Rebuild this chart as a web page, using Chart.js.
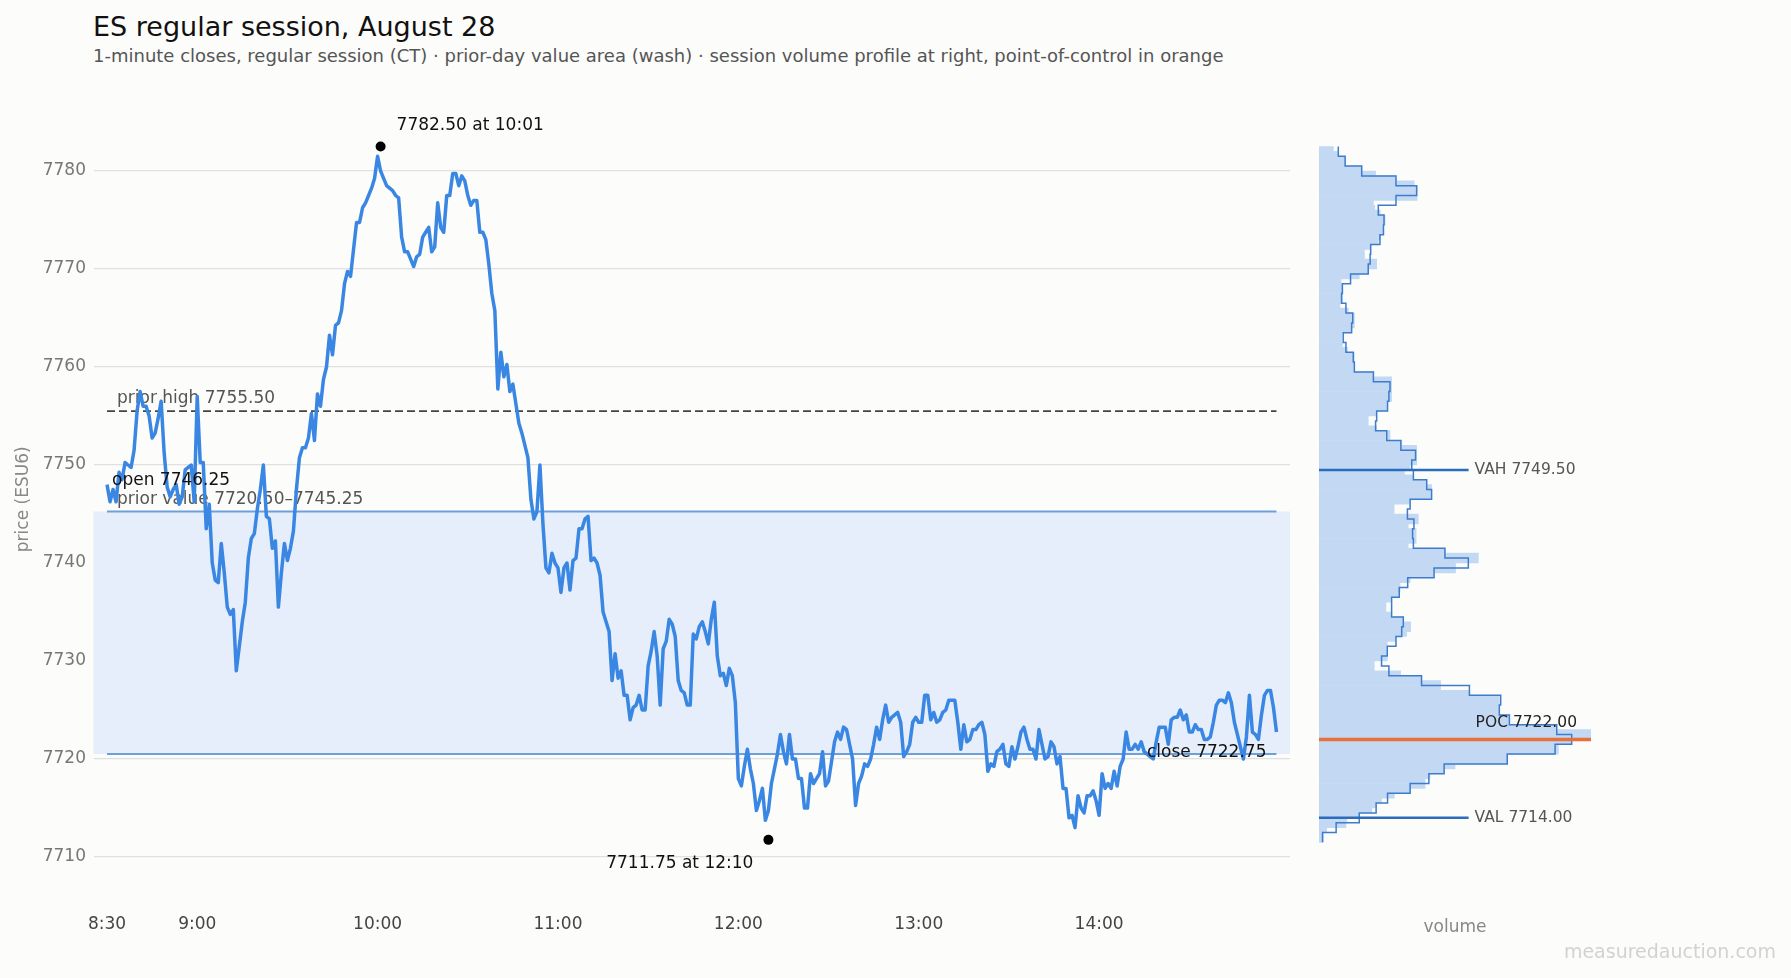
<!DOCTYPE html>
<html>
<head>
<meta charset="utf-8">
<title>ES regular session, August 28</title>
<script src="https://cdn.jsdelivr.net/npm/chart.js@4.4.1/dist/chart.umd.min.js"></script>
<style>
  html, body { margin: 0; padding: 0; background: #fcfcfa; }
  body { width: 1791px; height: 978px; position: relative; overflow: hidden; font-family: "DejaVu Sans", sans-serif; }
  .txt { position: absolute; white-space: nowrap; }
  #title { left: 93px; top: 10.6px; font-size: 27px; line-height: 32px; color: #111; }
  #subtitle { left: 93px; top: 45.3px; font-size: 18px; line-height: 21px; color: #555; }
  #mark { right: 15px; top: 940px; font-size: 19px; line-height: 22px; color: #d2d2d2; }
  #price { position: absolute; left: 0; top: 0; }
  #profile { position: absolute; left: 1300px; top: 0; }
</style>
</head>
<body>
<div class="txt" id="title">ES regular session, August 28</div>
<div class="txt" id="subtitle">1-minute closes, regular session (CT) · prior-day value area (wash) · session volume profile at right, point-of-control in orange</div>
<canvas id="price" width="1300" height="978"></canvas>
<canvas id="profile" width="491" height="978"></canvas>
<div class="txt" id="mark">measuredauction.com</div>
<script>
// 1-minute closes from 8:30 (index 0) to 14:59 (index 389)
const closes = [
  7748, 7746.25, 7747.5, 7746.25, 7749.25, 7748.5, 7750.25, 7750, 7749.75, 7751.5,
  7755.5, 7757.5, 7756, 7756, 7755, 7752.75, 7753.25, 7754.75, 7756.5, 7751.25,
  7747.75, 7746.75, 7747.5, 7748, 7746, 7746.75, 7749.5, 7749.75, 7750, 7746.25,
  7757, 7750.25, 7750.25, 7743.5, 7746, 7740, 7738.25, 7738, 7742, 7739,
  7735.5, 7734.75, 7735.25, 7729, 7731.5, 7734, 7736, 7740.5, 7742.5, 7743,
  7745.5, 7747.5, 7750, 7744.75, 7744.5, 7741.5, 7742.25, 7735.5, 7739, 7742,
  7740.25, 7741.5, 7743.25, 7747.5, 7750.75, 7751.75, 7751.75, 7752.75, 7755.25, 7752.5,
  7757.25, 7756, 7758.75, 7760, 7763.25, 7761.25, 7764.25, 7764.5, 7765.75, 7768.5,
  7769.75, 7769.25, 7772, 7774.75, 7774.75, 7776.25, 7776.75, 7777.5, 7778.25, 7779.25,
  7781.5, 7780, 7779.25, 7778.5, 7778.25, 7778, 7777.5, 7777.25, 7773.25, 7771.75,
  7771.75, 7771, 7770.25, 7771.25, 7771.5, 7773.25, 7773.75, 7774.25, 7771.75, 7772.25,
  7776.75, 7774.25, 7773.75, 7777.5, 7777.5, 7779.75, 7779.75, 7778.5, 7779.5, 7779,
  7777.5, 7776.5, 7777, 7777, 7773.75, 7773.75, 7773, 7770.5, 7767.5, 7765.75,
  7757.75, 7761.5, 7759, 7760.25, 7757.5, 7758.25, 7756.25, 7754.25, 7753.25, 7752,
  7750.75, 7746.5, 7744.5, 7745.25, 7750, 7744, 7739.5, 7739, 7741, 7740,
  7739.5, 7737, 7739.5, 7740, 7737.25, 7740.25, 7740.5, 7743.5, 7743.5, 7744.5,
  7744.75, 7740.25, 7740.5, 7740, 7738.75, 7735, 7734, 7733, 7728, 7730.75,
  7728.25, 7729, 7726.5, 7726.5, 7724, 7725.25, 7725.5, 7726.5, 7725, 7725,
  7729.5, 7731, 7733, 7730.5, 7725.5, 7731.25, 7732, 7734.25, 7733.75, 7732.5,
  7728, 7727, 7726.75, 7725.5, 7725.5, 7732.75, 7732.25, 7733.5, 7734, 7733,
  7731.75, 7734.25, 7736, 7730.5, 7728.5, 7728.75, 7727.5, 7729.25, 7728.5, 7725.75,
  7718, 7717.25, 7719.25, 7721, 7719, 7717.5, 7714.75, 7715.75, 7717, 7713.75,
  7714.75, 7717.5, 7719, 7720.5, 7722.5, 7720.75, 7719.5, 7722.5, 7720, 7720,
  7718, 7718, 7715, 7715, 7718.5, 7717.5, 7718, 7718.5, 7720.75, 7717.25,
  7717.75, 7719.75, 7721.75, 7722.75, 7722, 7723.25, 7723, 7721.5, 7720, 7715.25,
  7717.5, 7718.25, 7719.5, 7719.25, 7720, 7721.5, 7723.25, 7722, 7724, 7725.5,
  7723.75, 7724.25, 7724.5, 7724.75, 7723.75, 7720.25, 7720.75, 7721.5, 7723.75, 7724.25,
  7723.75, 7723.75, 7726.5, 7726.5, 7724, 7724.75, 7723.75, 7724, 7724.75, 7725,
  7726, 7726, 7726, 7723.75, 7721, 7723.5, 7721.75, 7722, 7723, 7723,
  7723.5, 7723.75, 7722.5, 7718.75, 7719.5, 7719.25, 7720.75, 7721, 7721.5, 7719.5,
  7719.25, 7721.25, 7720, 7721.25, 7722.75, 7723.25, 7722, 7721, 7721, 7720,
  7723, 7721.5, 7720, 7720.25, 7721.75, 7721.25, 7719.5, 7720.25, 7717, 7717,
  7714, 7714.25, 7713, 7716.25, 7715, 7714.5, 7716.25, 7716.25, 7716.75, 7715.75,
  7714.25, 7718.5, 7717, 7717.5, 7717, 7718.75, 7717.25, 7719.25, 7720, 7722.75,
  7721, 7721, 7721.5, 7721, 7721.75, 7720.75, 7720.5, 7720.25, 7720, 7721.75,
  7723.25, 7723.25, 7723.25, 7721.5, 7724, 7724.25, 7724.25, 7725, 7724, 7724.5,
  7722.75, 7722.75, 7723.5, 7723, 7723, 7722, 7722, 7722.25, 7723.75, 7725.5,
  7726, 7726, 7725.75, 7726.75, 7725.75, 7723.75, 7722.5, 7721.25, 7720, 7722.25,
  7726.5, 7722.75, 7722.5, 7722, 7724.5, 7726.5, 7727, 7727, 7725.25, 7722.75
];

const xTicks = [0, 30, 90, 150, 210, 270, 330];
const xTickLabels = ['8:30', '9:00', '10:00', '11:00', '12:00', '13:00', '14:00'];
const yTicks = [7710, 7720, 7730, 7740, 7750, 7760, 7770, 7780];

const openPrice = 7746.25;
const closePrice = 7722.75;
const priorHigh = 7755.50;
const priorValue = [7720.50, 7745.25];
const sessionHigh = { minute: 91, price: 7782.50, label: '7782.50 at 10:01' };
const sessionLow = { minute: 220, price: 7711.75, label: '7711.75 at 12:10' };

// volume profile: half-point rows from 7782.25 down, and one-point rows from 7782 down
const rowTop = 7782.25;
const rowVolume = [
  5.3, 7, 9.6, 9.6, 15.7, 20.8, 28.3, 35, 36.1, 36.1,
  36.1, 20, 20.5, 22.5, 24.3, 24.3, 23.4, 23.4, 22.7, 21.8,
  19.1, 16.7, 16.7, 21.2, 21.2, 18.1, 14.8, 8.1, 8.6, 8.6,
  8.6, 8.6, 7.7, 10.8, 13, 13, 13, 12, 8.3, 8.3,
  8.6, 10.5, 13, 13, 13, 13, 20, 26.7, 26.7, 26.7,
  26.7, 26.7, 25.1, 25.1, 21.2, 18.1, 18.1, 21.2, 26.1, 26.1,
  30.4, 35.9, 35.9, 35.9, 35.9, 33.5, 31.4, 34.7, 39.3, 41.4,
  41.4, 41.4, 33.5, 27.6, 27.6, 36.5, 36.5, 32.8, 35.7, 35.7,
  35.7, 32.8, 46.3, 58.6, 58.6, 50.2, 50.2, 42.3, 33.5, 29.8,
  29.8, 29.2, 26.3, 24.6, 24.6, 26.7, 31, 33.7, 33.7, 32.2,
  28.3, 25.1, 25.1, 25.1, 25.1, 20.3, 20.3, 30, 37.7, 44.7,
  44.7, 55.3, 66.3, 66.3, 66.3, 66.3, 70, 70, 87.4, 100,
  100, 92.9, 88, 88, 69.2, 69.2, 50, 46, 40.8, 39,
  39, 33.5, 27.7, 23, 21, 19.4, 14.8, 10.2, 9.9, 2.8,
  1.6, 1.6
];
const pointTop = 7782;
const pointVolume = [
  7.1, 9.6, 15.7, 28.3, 35.9, 28.3, 21.8, 23.9, 23.7, 22.4,
  19, 18.8, 18.1, 11.6, 8.6, 8.3, 9.9, 12.4, 12, 8.9,
  9.9, 12.6, 13, 20, 26.1, 25.7, 25.2, 21.2, 20.8, 24.9,
  30.1, 35.5, 34.1, 34.7, 39.6, 41.4, 33.5, 32.5, 34.9, 34.4,
  34.7, 46.3, 54.9, 42.3, 32.6, 29.5, 26.7, 26.7, 31, 30.4,
  28.3, 25.1, 23, 25.7, 37.7, 55.3, 66.8, 66.3, 70, 87.4,
  92.9, 86.8, 69.2, 46, 40.4, 33.5, 25.2, 21, 14.8, 6.3,
  1.3
];
const vah = 7749.50, val = 7714.00, poc = 7722.00;
const vaLineEnd = 55;

Chart.defaults.font.family = '"DejaVu Sans", sans-serif';
Chart.defaults.animation = false;

const yMin = 7706, yMax = 7787;
const plotTop = 102.4, axisBand = 81.8;
const lastMin = closes.length - 1;

function refLine(p) {
  return [{ x: 0, y: p }, { x: lastMin, y: p }];
}

// shaded prior value area and text notes for the price panel
const priceNotes = {
  id: 'priceNotes',
  beforeDatasetsDraw(chart) {
    const { ctx, chartArea, scales: { x, y } } = chart;
    ctx.save();
    const top = y.getPixelForValue(priorValue[1]);
    const bot = y.getPixelForValue(priorValue[0]);
    ctx.fillStyle = '#e5eefa';
    ctx.fillRect(chartArea.left, top, chartArea.right - chartArea.left, bot - top);
    ctx.font = '17px "DejaVu Sans"';
    ctx.fillStyle = '#555';
    ctx.textAlign = 'left';
    ctx.textBaseline = 'alphabetic';
    const x0 = x.getPixelForValue(0);
    ctx.fillText('prior high ' + priorHigh.toFixed(2), x0 + 10, y.getPixelForValue(priorHigh) - 8);
    ctx.fillText('prior value ' + priorValue[0].toFixed(2) + '–' + priorValue[1].toFixed(2), x0 + 10, top - 8);
    ctx.restore();
  },
  afterDatasetsDraw(chart) {
    const { ctx, scales: { x, y } } = chart;
    ctx.save();
    ctx.font = '17px "DejaVu Sans"';
    ctx.fillStyle = '#111';
    ctx.textBaseline = 'alphabetic';
    ctx.textAlign = 'left';
    ctx.fillText('open ' + openPrice.toFixed(2), x.getPixelForValue(0) + 5, y.getPixelForValue(openPrice) - 17);
    ctx.fillText(sessionHigh.label, x.getPixelForValue(sessionHigh.minute) + 16, y.getPixelForValue(sessionHigh.price) - 17);
    ctx.textAlign = 'right';
    ctx.fillText('close ' + closePrice.toFixed(2), x.getPixelForValue(lastMin) - 10, y.getPixelForValue(closePrice) + 25);
    ctx.fillText(sessionLow.label, x.getPixelForValue(sessionLow.minute) - 15, y.getPixelForValue(sessionLow.price) + 28);
    ctx.restore();
  }
};

new Chart(document.getElementById('price'), {
  type: 'line',
  data: {
    datasets: [
      { data: closes.map((c, i) => ({ x: i, y: c })), borderColor: '#3a86e3', borderWidth: 3.5,
        pointRadius: 0, tension: 0, borderJoinStyle: 'round', order: 1 },
      { data: [{ x: sessionHigh.minute, y: sessionHigh.price }, { x: sessionLow.minute, y: sessionLow.price }],
        showLine: false, pointRadius: 5, pointBackgroundColor: '#000', pointBorderWidth: 0, order: 0 },
      { data: refLine(priorHigh), borderColor: '#444', borderWidth: 1.8, borderDash: [8, 4], pointRadius: 0, order: 3 },
      { data: refLine(priorValue[1]), borderColor: '#6d9fdc', borderWidth: 2, pointRadius: 0, order: 4 },
      { data: refLine(priorValue[0]), borderColor: '#6d9fdc', borderWidth: 2, pointRadius: 0, order: 4 }
    ]
  },
  options: {
    responsive: false,
    devicePixelRatio: 1,
    events: [],
    layout: { padding: { left: 0, right: 10, top: plotTop, bottom: 0 } },
    plugins: { legend: { display: false }, tooltip: { enabled: false } },
    scales: {
      x: {
        type: 'linear', min: -4.5, max: 393.5,
        grid: { display: false }, border: { display: false },
        afterBuildTicks: s => { s.ticks = xTicks.map(v => ({ value: v })); },
        afterFit: s => { s.height = axisBand; },
        ticks: {
          autoSkip: false, maxRotation: 0, padding: 10.4, color: '#444', font: { size: 17 },
          callback: v => xTickLabels[xTicks.indexOf(v)]
        }
      },
      y: {
        type: 'linear', min: yMin, max: yMax,
        grid: { color: '#e0e0e0', lineWidth: 1.3, drawTicks: false },
        border: { display: false },
        afterBuildTicks: s => { s.ticks = yTicks.map(v => ({ value: v })); },
        afterFit: s => { s.width = 93.5; },
        ticks: { padding: 7.5, color: '#777', font: { size: 17 }, callback: v => String(v) },
        title: { display: true, text: 'price (ESU6)', color: '#888', font: { size: 17 }, padding: { top: 13, bottom: 0 } }
      }
    }
  },
  plugins: [priceNotes]
});

// value area / point-of-control labels for the profile panel
const profileNotes = {
  id: 'profileNotes',
  afterDatasetsDraw(chart) {
    const { ctx, scales: { x, y } } = chart;
    ctx.save();
    ctx.font = '15.5px "DejaVu Sans"';
    ctx.textAlign = 'left';
    ctx.textBaseline = 'middle';
    const lx = x.getPixelForValue(vaLineEnd) + 6;
    ctx.fillStyle = '#555';
    ctx.fillText('VAH ' + vah.toFixed(2), lx, y.getPixelForValue(vah));
    ctx.fillText('VAL ' + val.toFixed(2), lx, y.getPixelForValue(val));
    ctx.fillStyle = '#222';
    ctx.fillText('POC ' + poc.toFixed(2), lx + 1, y.getPixelForValue(poc) - 16.5);
    ctx.restore();
  }
};

const outlinePts = pointVolume.map((v, i) => ({ x: v, y: pointTop - i + 0.5 }));
outlinePts.push({ x: pointVolume[pointVolume.length - 1], y: pointTop - pointVolume.length + 0.5 });

new Chart(document.getElementById('profile'), {
  type: 'bar',
  data: {
    datasets: [
      { type: 'bar', data: rowVolume.map((v, i) => ({ x: v, y: rowTop - i * 0.5 })),
        backgroundColor: '#c3d9f3', borderWidth: 0, barPercentage: 1, categoryPercentage: 1, order: 3 },
      { type: 'line', data: outlinePts, stepped: 'after', borderColor: '#3d7ccc', borderWidth: 1.5,
        pointRadius: 0, order: 2 },
      { type: 'line', data: [{ x: 0, y: vah }, { x: vaLineEnd, y: vah }], borderColor: '#2b6cbf', borderWidth: 2.5, pointRadius: 0, order: 1 },
      { type: 'line', data: [{ x: 0, y: val }, { x: vaLineEnd, y: val }], borderColor: '#2b6cbf', borderWidth: 2.5, pointRadius: 0, order: 1 },
      { type: 'line', data: [{ x: 0, y: poc }, { x: 100, y: poc }], borderColor: '#e8703a', borderWidth: 3.5, pointRadius: 0, order: 0 }
    ]
  },
  options: {
    indexAxis: 'y',
    responsive: false,
    devicePixelRatio: 1,
    events: [],
    layout: { padding: { left: 19, right: 200, top: plotTop, bottom: 0 } },
    plugins: { legend: { display: false }, tooltip: { enabled: false } },
    scales: {
      x: {
        type: 'linear', min: 0, max: 100,
        grid: { display: false }, border: { display: false }, ticks: { display: false },
        afterFit: s => { s.height = axisBand; },
        title: { display: true, text: 'volume', color: '#888', font: { size: 17 }, padding: { top: 0, bottom: 40.5 } }
      },
      y: { type: 'linear', min: yMin, max: yMax, offset: false, display: false }
    }
  },
  plugins: [profileNotes]
});
</script>
</body>
</html>
